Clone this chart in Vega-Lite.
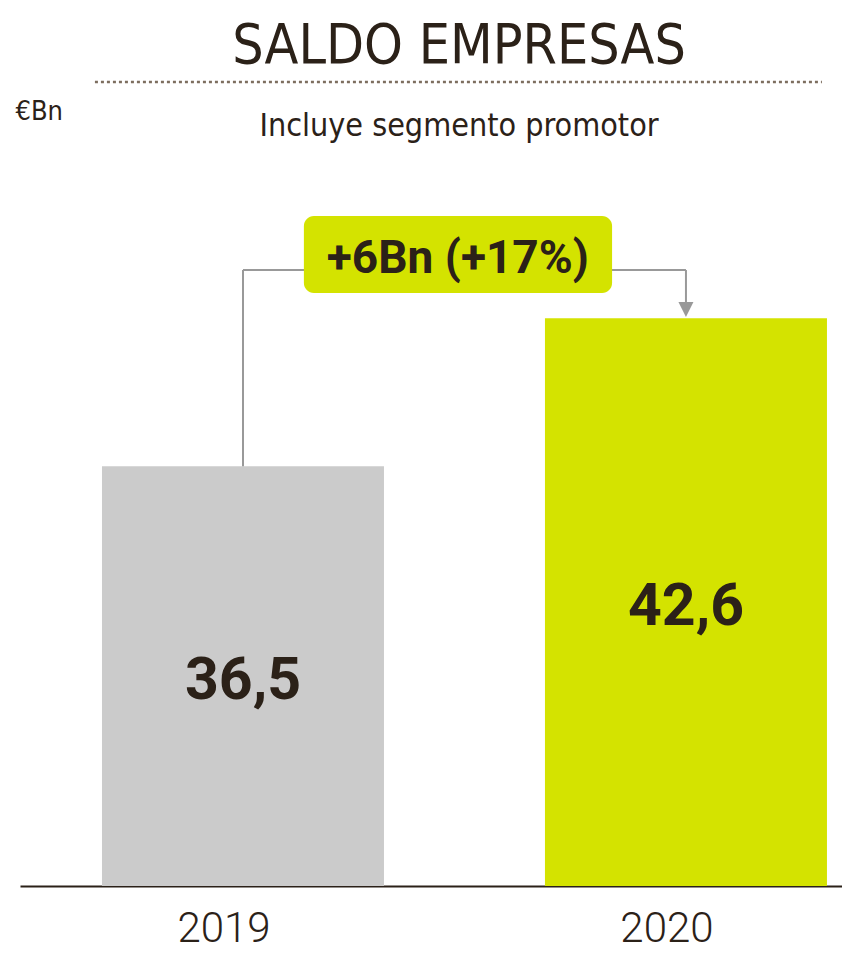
{
  "$schema": "https://vega.github.io/schema/vega-lite/v6.json",
  "autosize": {"type": "none"},
  "width": 822,
  "height": 804,
  "padding": {"left": 20, "top": 82, "right": 0, "bottom": 69},
  "background": "white",
  "config": {
    "view": {"stroke": null},
    "locale": {"number": {"decimal": ",", "thousands": ".", "grouping": [3], "currency": ["", " €"]}}
  },
  "title": {
    "text": "SALDO EMPRESAS",
    "subtitle": "Incluye segmento promotor",
    "anchor": "middle",
    "dx": 28,
    "offset": -62,
    "font": "'DejaVu Sans Condensed', sans-serif",
    "fontSize": 55,
    "fontWeight": "normal",
    "color": "#2b2118",
    "subtitleFont": "'DejaVu Sans Condensed', sans-serif",
    "subtitleFontSize": 32,
    "subtitleColor": "#2b2118",
    "subtitlePadding": 36
  },
  "data": {"values": [
    {"year": "2019", "value": 36.5},
    {"year": "2020", "value": 42.6}
  ]},
  "layer": [
    {
      "layer": [
        {
          "mark": {"type": "bar"},
          "encoding": {
            "x": {
              "field": "year", "type": "nominal",
              "scale": {"type": "band", "paddingInner": 0.3634, "paddingOuter": 0.1095, "align": 0.845},
              "axis": {
                "title": null, "ticks": false, "labelAngle": 0,
                "domainColor": "#2b2118", "domainWidth": 2,
                "labelFont": "Roboto", "labelFontWeight": 300, "labelFontSize": 42,
                "labelColor": "#2b2118", "labelPadding": 22, "labelOffset": -19
              }
            },
            "y": {
              "field": "value", "type": "quantitative",
              "scale": {"domain": [19.2, 52.34], "zero": false, "nice": false},
              "axis": {
                "title": "€Bn", "labels": false, "ticks": false, "domain": false, "grid": false,
                "titleAngle": 0, "titleX": -5, "titleY": 29, "titleAlign": "left", "titleBaseline": "middle",
                "titleFont": "'DejaVu Sans Condensed', sans-serif",
                "titleFontSize": 27, "titleFontWeight": "normal", "titleColor": "#2b2118"
              }
            },
            "y2": {"datum": 19.2},
            "color": {
              "field": "year", "type": "nominal",
              "scale": {"domain": ["2019", "2020"], "range": ["#cbcbcb", "#d4e300"]},
              "legend": null
            }
          }
        },
        {
          "data": {"values": [{"from": "2019", "to": "2020", "level": 52.34}]},
          "mark": {"type": "rule", "color": "#7d6e5f", "strokeWidth": 2.5, "strokeDash": [3, 3]},
          "encoding": {
            "x": {"field": "from", "type": "nominal", "bandPosition": -0.025},
            "x2": {"field": "to", "bandPosition": 0.982},
            "y": {"field": "level", "type": "quantitative"}
          }
        },
        {
          "data": {"values": [
            {"from": "2019", "to": "2019", "start": 36.5, "end": 44.59},
            {"from": "2019", "to": "2020", "start": 44.59, "end": 44.59},
            {"from": "2020", "to": "2020", "start": 44.59, "end": 43.2}
          ]},
          "mark": {"type": "rule", "color": "#999999", "strokeWidth": 2},
          "encoding": {
            "x": {"field": "from", "type": "nominal", "bandPosition": 0.5},
            "x2": {"field": "to", "bandPosition": 0.5},
            "y": {"field": "start", "type": "quantitative"},
            "y2": {"field": "end"}
          }
        },
        {
          "data": {"values": [{"year": "2020", "tip": 42.96}]},
          "mark": {"type": "point", "shape": "M-1,-1L1,-1L0,1Z", "size": 225, "filled": true, "color": "#999999", "opacity": 1},
          "encoding": {
            "x": {"field": "year", "type": "nominal", "bandPosition": 0.5},
            "y": {"field": "tip", "type": "quantitative"}
          }
        },
        {
          "data": {"values": [{"from": "2019", "to": "2020", "top": 46.82, "bottom": 43.64}]},
          "mark": {"type": "rect", "color": "#d4e300", "cornerRadius": 10},
          "encoding": {
            "x": {"field": "from", "type": "nominal", "bandPosition": 0.716},
            "x2": {"field": "to", "bandPosition": 0.238},
            "y": {"field": "top", "type": "quantitative"},
            "y2": {"field": "bottom"}
          }
        },
        {
          "data": {"values": [{"from": "2019", "at": 45.2, "label": "+6Bn (+17%)"}]},
          "mark": {"type": "text", "font": "Roboto", "fontWeight": "bold", "fontSize": 46, "color": "#2b2118", "align": "center", "baseline": "middle", "dy": 4},
          "encoding": {
            "x": {"field": "from", "type": "nominal", "bandPosition": 1.262},
            "y": {"field": "at", "type": "quantitative"},
            "text": {"field": "label"}
          }
        }
      ]
    },
    {
      "mark": {"type": "text", "font": "Roboto", "fontWeight": "bold", "fontSize": 59, "color": "#2b2118", "align": "center", "baseline": "middle", "dy": 5},
      "encoding": {
        "x": {"field": "year", "type": "nominal", "bandPosition": 0.5},
        "y": {
          "field": "value", "type": "quantitative",
          "scale": {"domain": [19.2, 85.48], "zero": false, "nice": false},
          "axis": null
        },
        "text": {"field": "value", "type": "quantitative", "format": ".1f"}
      }
    }
  ],
  "resolve": {"scale": {"y": "independent"}}
}
